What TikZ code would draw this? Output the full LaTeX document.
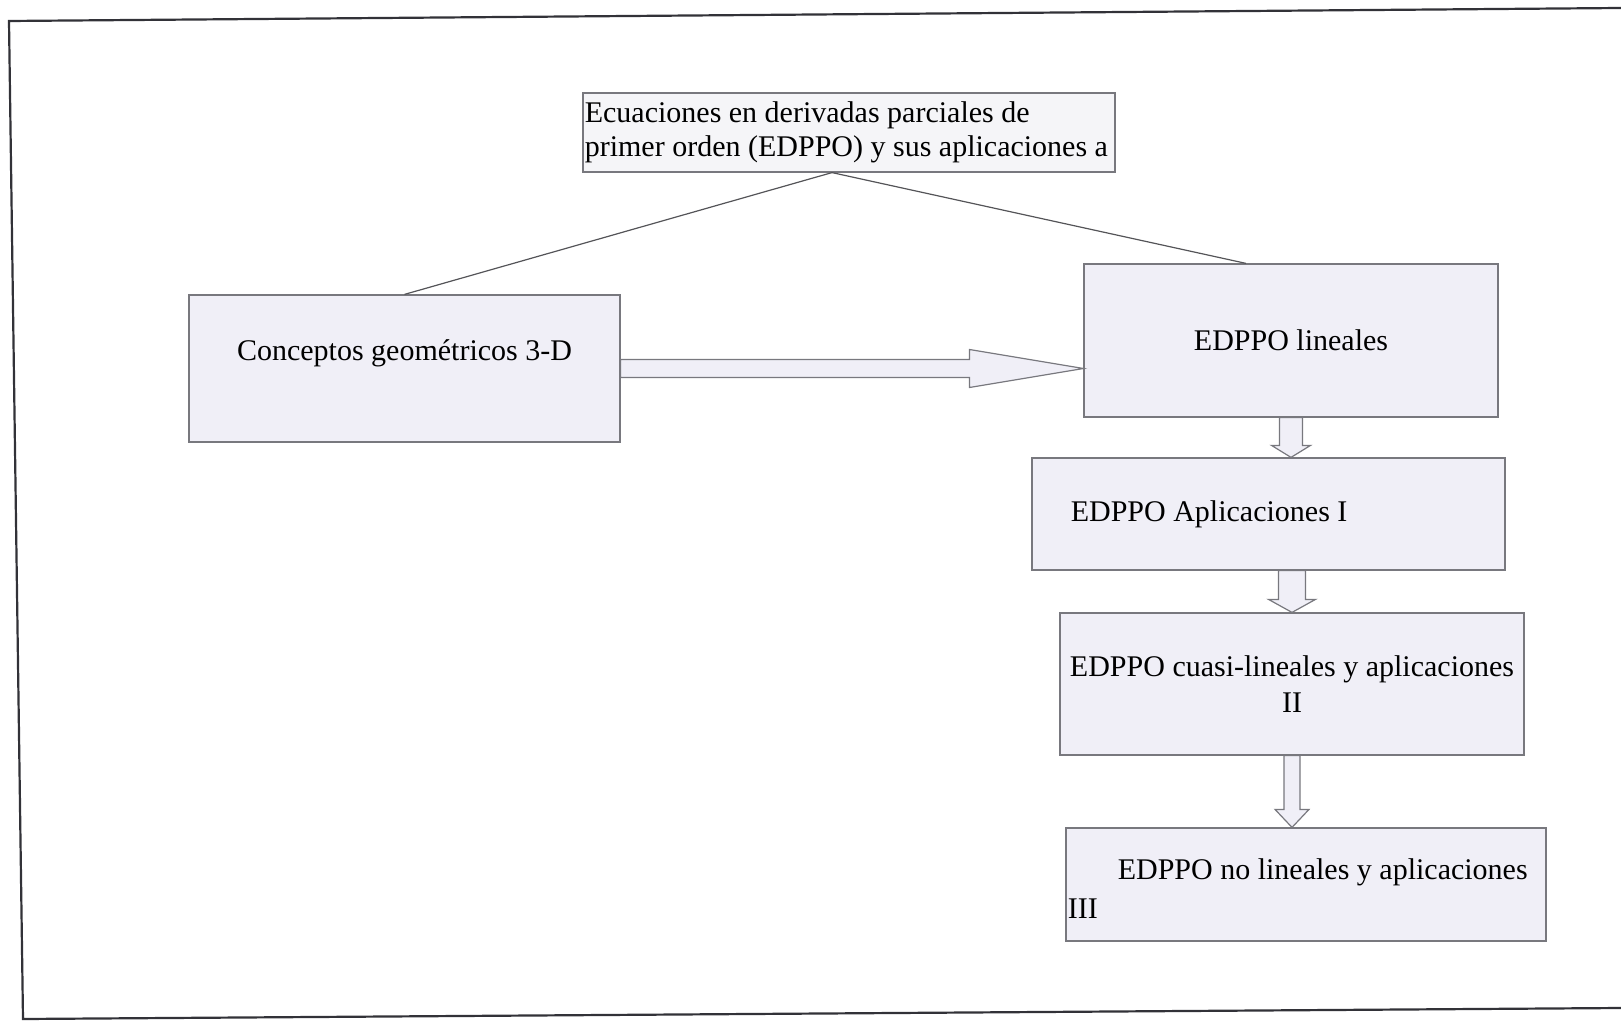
\documentclass[tikz,border=0pt]{standalone}
\usepackage{fontspec}
\setmainfont{Liberation Serif}
\usetikzlibrary{calc}
\definecolor{boxfill}{RGB}{240,239,247}
\definecolor{topfill}{RGB}{245,245,248}
\definecolor{boxline}{RGB}{120,120,126}
\definecolor{framecol}{RGB}{50,50,56}

\tikzset{
  box/.style={draw=boxline, fill=boxfill, line width=0.6pt, inner sep=0pt},
  txt/.style={inner sep=0pt, font=\fontsize{15}{17}\selectfont},
  arrowbox/.style={draw=boxline, fill=boxfill, line width=0.6pt, line join=miter},
  link/.style={draw=boxline!70!black, line width=0.6pt},
  frame/.style={draw=framecol, line width=1.1pt}
}

% tail, tip, half shaft, half head, head length
\newcommand\blockarrow[5]{%
  \coordinate (ba-base) at ($(#2)!#5!(#1)$);
  \draw[arrowbox] ($(#1)!#3!90:(#2)$) -- ($(ba-base)!#3!-90:(#1)$)
    -- ($(ba-base)!#4!-90:(#1)$) -- (#2) -- ($(ba-base)!#4!90:(#1)$)
    -- ($(ba-base)!#3!90:(#1)$) -- ($(#1)!#3!-90:(#2)$) -- cycle;}

\begin{document}
\begin{tikzpicture}[x=0.5pt,y=-0.5pt]
  \useasboundingbox (0,0) rectangle (1621,1021);
  \draw[frame] (1621,8) -- (9,21) -- (23,1019) -- (1621,1008);

  % boxes
  \node[box, fill=topfill, minimum width=266pt, minimum height=39.5pt] (top) at (849,132.5) {};
  \node[box, minimum width=215.5pt, minimum height=73.5pt] (concept) at (404.5,368.5) {};
  \node[box, minimum width=207pt, minimum height=76.5pt] (lin) at (1291,340.5) {};
  \node[box, minimum width=236.5pt, minimum height=56pt] (apl) at (1268.5,514) {};
  \node[box, minimum width=232pt, minimum height=71pt] (cuasi) at (1292,684) {};
  \node[box, minimum width=240pt, minimum height=56.5pt] (nolin) at (1306,884.5) {};

  % texts
  \node[txt, anchor=west, align=left] (top-t) at ([xshift=1pt]top.west)
    {Ecuaciones en derivadas parciales de\\primer orden (EDPPO) y sus aplicaciones a};
  \node[txt] (concept-t) at ([yshift=7.75pt]concept.center) {Conceptos geométricos 3-D};
  \node[txt] (lin-t) at (lin.center) {EDPPO lineales};
  \node[txt, anchor=west] (apl-t) at ([xshift=19.5pt]apl.west) {EDPPO Aplicaciones I};
  \node[txt, align=center] (cuasi-t) at (cuasi.center)
    {EDPPO cuasi-lineales y aplicaciones\\[1pt]II};
  \node[txt, anchor=west, align=left] (nolin-t) at ([xshift=1pt,yshift=-2pt]nolin.west)
    {\hspace*{25pt}EDPPO no lineales y aplicaciones\\[2.5pt]III};

  % links
  \draw[link] ([xshift=-8.5pt]top.south) -- (concept.north);
  \draw[link] ([xshift=-8.5pt]top.south) -- ([xshift=-22.5pt]lin.north);

  % block arrows
  \coordinate (h-end) at (concept.east -| lin.west);
  \blockarrow{concept.east}{h-end}{4.5pt}{9.5pt}{57pt}
  \coordinate (a1-end) at (lin.south |- apl.north);
  \coordinate (a2-beg) at (cuasi.north |- apl.south);
  \coordinate (a3-end) at (cuasi.south |- nolin.north);
  \foreach \from/\to/\s/\h/\l in {lin.south/a1-end/5.75pt/9.75pt/6pt,
      a2-beg/cuasi.north/6.75pt/11.75pt/6.5pt,
      cuasi.south/a3-end/4pt/8.5pt/9pt}
    {\blockarrow{\from}{\to}{\s}{\h}{\l}}
\end{tikzpicture}
\end{document}
